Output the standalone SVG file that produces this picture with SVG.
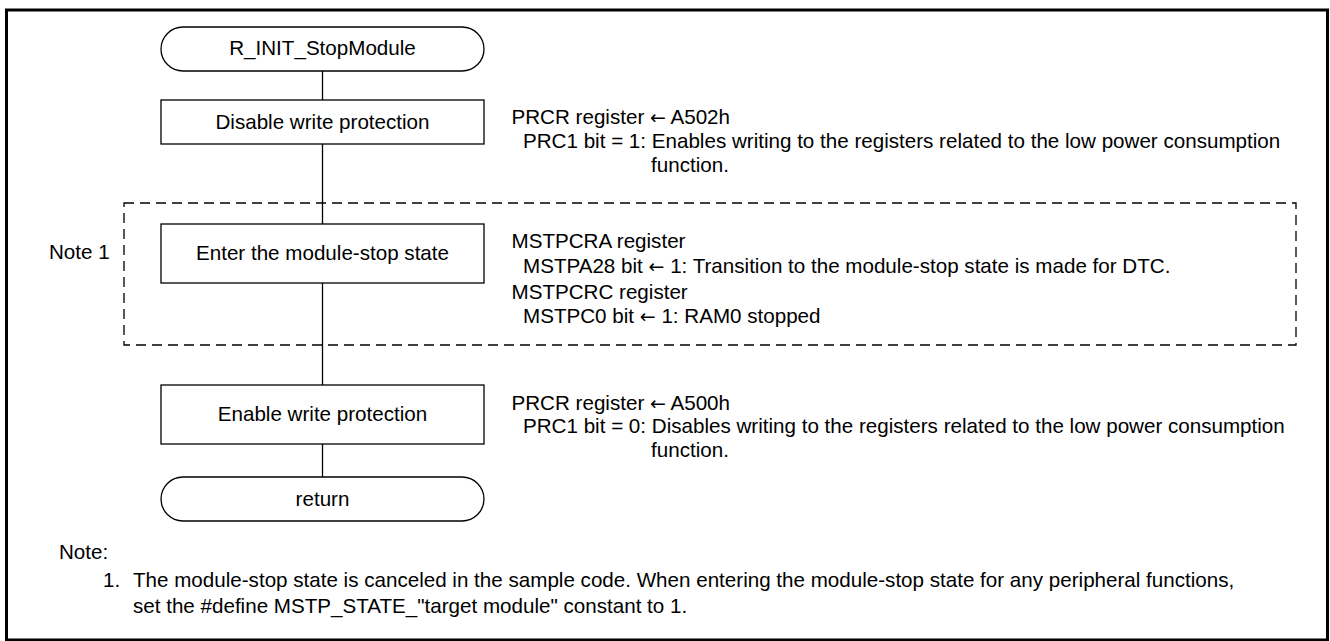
<svg xmlns="http://www.w3.org/2000/svg" width="1330" height="641" viewBox="0 0 1330 641">
  <style>
    text { font-family: "Liberation Sans", Arial, sans-serif; font-size: 20.6px; fill: #000; }
    .c { text-anchor: middle; }
    .ar { font-family: "DejaVu Sans", sans-serif; font-size: 19px; }
    .box { fill: #fff; stroke: #000; stroke-width: 1.3; }
    .ln { stroke: #000; stroke-width: 1.3; fill: none; }
    .dash { fill: none; stroke: #000; stroke-width: 1.3; stroke-dasharray: 10 6; }
  </style>
  <rect width="1330" height="641" fill="#fff"/>
  <rect x="6.5" y="10" width="1321" height="630" fill="none" stroke="#000" stroke-width="3"/>

  <g id="connectors">
    <line class="ln" x1="322.5" y1="71" x2="322.5" y2="100"/>
    <line class="ln" x1="322.5" y1="144" x2="322.5" y2="224"/>
    <line class="ln" x1="322.5" y1="283" x2="322.5" y2="385"/>
    <line class="ln" x1="322.5" y1="444" x2="322.5" y2="477"/>
  </g>

  <g id="note1-region">
    <rect class="dash" x="124" y="203" width="1172" height="142"/>
    <text x="49" y="259">Note 1</text>
  </g>

  <g id="start">
    <rect class="box" x="161" y="27" width="323" height="44" rx="22" ry="22"/>
    <text class="c" x="322.5" y="55">R_INIT_StopModule</text>
  </g>

  <g id="disable">
    <rect class="box" x="161" y="100" width="323" height="44"/>
    <text class="c" x="322.5" y="129">Disable write protection</text>
  </g>
  <g id="disable-comment">
    <text x="511.5" y="124">PRCR register <tspan class="ar">←</tspan> A502h</text>
    <text x="523" y="148">PRC1 bit = 1: Enables writing to the registers related to the low power consumption</text>
    <text x="651" y="172">function.</text>
  </g>

  <g id="enter">
    <rect class="box" x="161" y="224" width="323" height="59"/>
    <text class="c" x="322.5" y="260">Enter the module-stop state</text>
  </g>
  <g id="enter-comment">
    <text x="511.5" y="248">MSTPCRA register</text>
    <text x="523" y="273">MSTPA28 bit <tspan class="ar">←</tspan> 1: Transition to the module-stop state is made for DTC.</text>
    <text x="511.5" y="299">MSTPCRC register</text>
    <text x="523" y="323">MSTPC0 bit <tspan class="ar">←</tspan> 1: RAM0 stopped</text>
  </g>

  <g id="enable">
    <rect class="box" x="161" y="385" width="323" height="59"/>
    <text class="c" x="322.5" y="421">Enable write protection</text>
  </g>
  <g id="enable-comment">
    <text x="511.5" y="410">PRCR register <tspan class="ar">←</tspan> A500h</text>
    <text x="523" y="433">PRC1 bit = 0: Disables writing to the registers related to the low power consumption</text>
    <text x="651" y="457">function.</text>
  </g>

  <g id="return">
    <rect class="box" x="161" y="477" width="323" height="44" rx="22" ry="22"/>
    <text class="c" x="322.5" y="506">return</text>
  </g>

  <g id="notes">
    <text x="59" y="559">Note:</text>
    <text x="103" y="587">1.</text>
    <text x="133" y="587">The module-stop state is canceled in the sample code. When entering the module-stop state for any peripheral functions,</text>
    <text x="133" y="613">set the #define MSTP_STATE_"target module" constant to 1.</text>
  </g>
</svg>
